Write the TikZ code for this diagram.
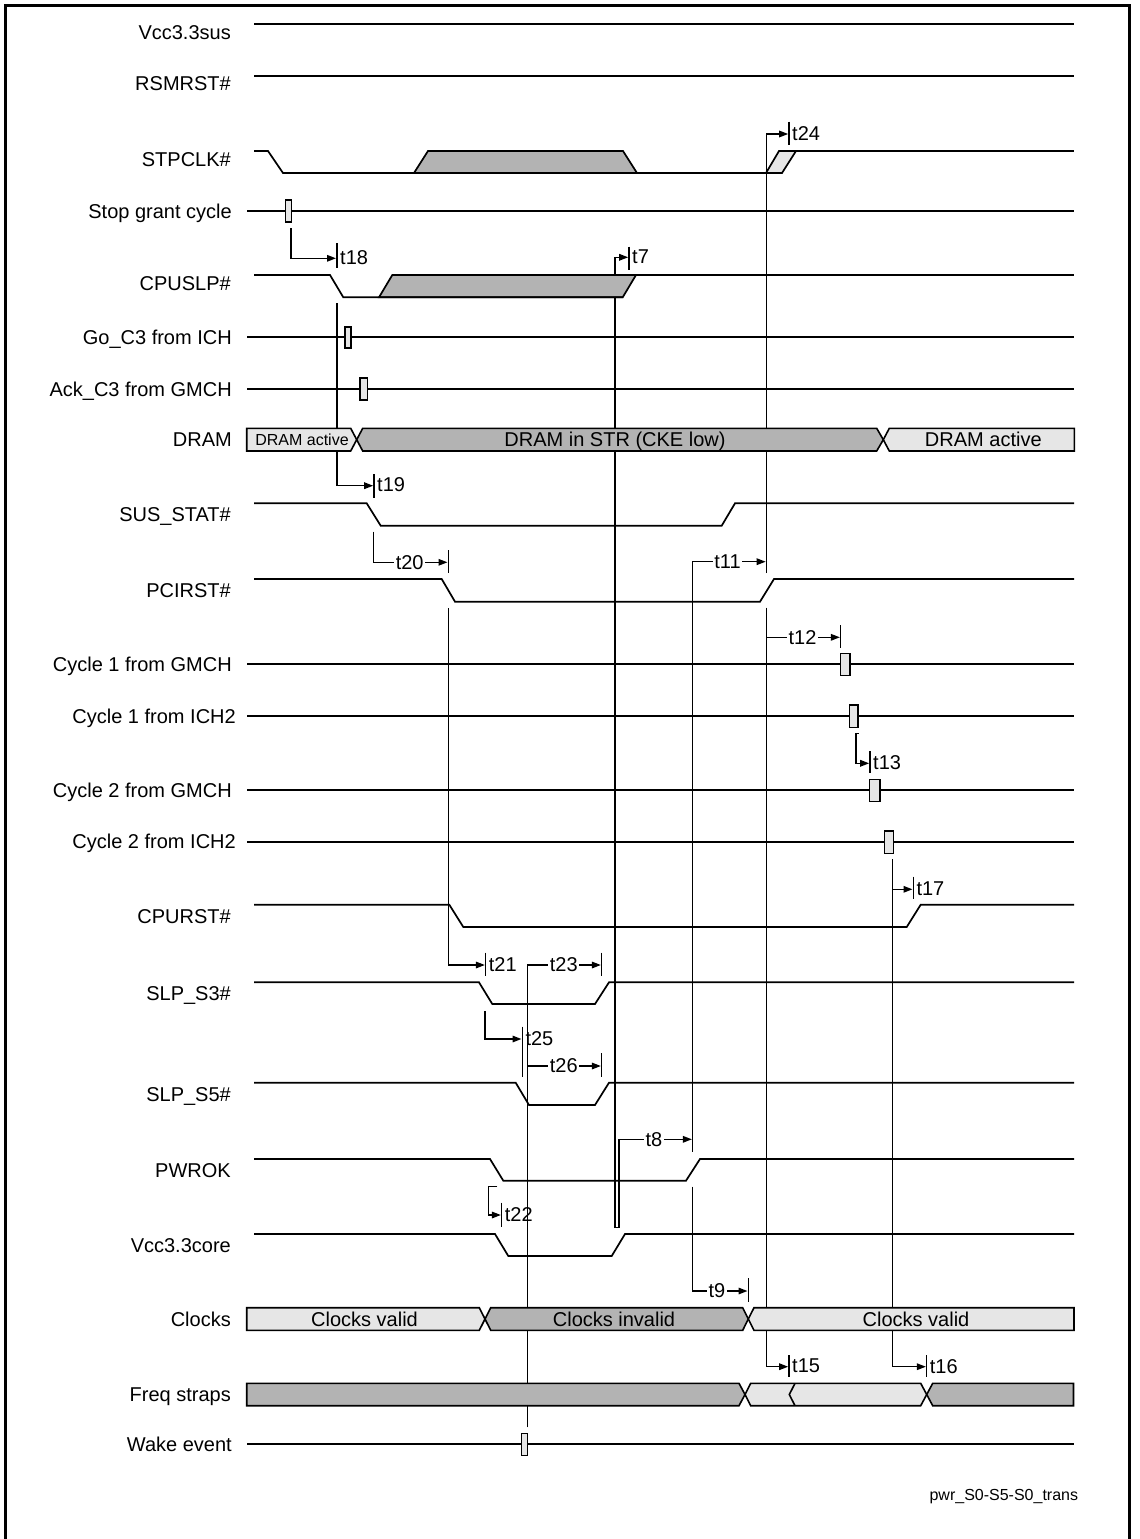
\documentclass[tikz,border=0pt]{standalone}
\usepackage{fontspec}
\setmainfont{Liberation Sans}
\usetikzlibrary{arrows.meta}
\definecolor{dk}{RGB}{179,179,179}
\definecolor{lt}{RGB}{230,230,230}
\tikzset{
  sig/.style={line width=1.7pt, line join=miter},
  tk/.style={line width=1.5pt},
  tarr/.style={line width=1.5pt, -{Triangle[length=9pt,width=6.5pt]}},
  pulse/.style={draw, fill=lt, line width=1.4pt},
  bar/.style={draw, line width=1.6pt},
  lbl/.style={anchor=base east, inner sep=0pt, font=\fontsize{20}{24}\selectfont},
  tl/.style={anchor=west, inner sep=0pt, font=\fontsize{20}{24}\selectfont},
  tm/.style={fill=white, inner sep=1.5pt, font=\fontsize{20}{24}\selectfont},
  btxt/.style={anchor=base, inner sep=0pt, font=\fontsize{20}{24}\selectfont},
  stxt/.style={anchor=base, inner sep=0pt, font=\fontsize{16}{19}\selectfont}
}
\begin{document}
\begin{tikzpicture}[x=1pt,y=-1pt]
\useasboundingbox (0,0) rectangle (1140,1539);
% frame
\draw[line width=3.5pt] (5.5,1560) -- (5.5,5.5) -- (1129.5,5.5) -- (1129.5,1560);

% ---------- signal labels ----------
\node[lbl] (lVcc) at (231,39.3) {Vcc3.3sus};
\node[lbl] (lRSM) at (231,90.7) {RSMRST\#};
\node[lbl] (lSTP) at (231,166.7) {STPCLK\#};
\node[lbl] (lSGC) at (232,218.3) {Stop grant cycle};
\node[lbl] (lSLP) at (231,290) {CPUSLP\#};
\node[lbl] (lGo) at (232,344) {Go\_C3 from ICH};
\node[lbl] (lAck) at (232,396) {Ack\_C3 from GMCH};
\node[lbl] (lDRAM) at (232,446.8) {DRAM};
\node[lbl] (lSUS) at (231,521.6) {SUS\_STAT\#};
\node[lbl] (lPCI) at (231,597.5) {PCIRST\#};
\node[lbl] (lC1G) at (232,671.4) {Cycle 1 from GMCH};
\node[lbl] (lC1I) at (236,723.1) {Cycle 1 from ICH2};
\node[lbl] (lC2G) at (232,797.1) {Cycle 2 from GMCH};
\node[lbl] (lC2I) at (236,848.8) {Cycle 2 from ICH2};
\node[lbl] (lCPU) at (231,923) {CPURST\#};
\node[lbl] (lS3) at (231,1000.3) {SLP\_S3\#};
\node[lbl] (lS5) at (231,1101) {SLP\_S5\#};
\node[lbl] (lPWR) at (231,1177) {PWROK};
\node[lbl] (lVcore) at (231,1252.2) {Vcc3.3core};
\node[lbl] (lClk) at (231,1326) {Clocks};
\node[lbl] (lFreq) at (231,1401.6) {Freq straps};
\node[lbl] (lWake) at (232,1451.4) {Wake event};

% ---------- timing arrows (under the bars) ----------
% t24 / t11 tick line
\draw[tarr] (766.5,573) -- (766.5,134) -- (788.2,134);
\draw[tk] (789,121.7) -- (789,145);
\node[tl] (t24) at (792,133.5) {t24};
% t18
\draw[tarr] (291,228.3) -- (291,258.3) -- (336,258.3);
\draw[tk] (337,243) -- (337,268);
\node[tl] (t18) at (340,257.5) {t18};
% t19
\draw[tarr] (337,303) -- (337,485.7) -- (373.2,485.7);
\draw[tk] (374,474) -- (374,498.3);
\node[tl] (t19) at (377,485) {t19};
% t20
\draw[tarr] (373.3,531.7) -- (373.3,562.3) -- (447.5,562.3);
\draw[tk] (448.3,550) -- (448.3,573.3);
\node[tm] (t20) at (409.7,562.3) {t20};
% t21
\draw[tarr] (448.3,608) -- (448.3,965) -- (484.9,965);
\draw[tk] (485.7,952.7) -- (485.7,976);
\node[tl] (t21) at (488.7,964.5) {t21};
% t23 (long line to wake event)
\draw[tarr] (527.3,1427.3) -- (527.3,965) -- (600.9,965);
\draw[tk] (601.7,952.7) -- (601.7,976);
\node[tm] (t23) at (563.8,965) {t23};
% t26
\draw[tarr] (527.3,1066) -- (600.9,1066);
\draw[tk] (601.7,1053.3) -- (601.7,1076.7);
\node[tm] (t26) at (563.8,1066) {t26};
% t25
\draw[tarr] (485,1011) -- (485,1039) -- (521.5,1039);
\draw[tk] (522.3,1026.7) -- (522.3,1076.7);
\node[tl] (t25) at (525.3,1038.5) {t25};
% t7
\draw[tarr] (615,1227.5) -- (615,257.3) -- (628.2,257.3);
\draw[tk] (629,246.7) -- (629,270);
\node[tl] (t7) at (632,257) {t7};
% t8
\draw[tarr] (615,1227.5) -- (619,1227.5) -- (619,1139.3) -- (691.9,1139.3);
\node[tm] (t8) at (654,1139.3) {t8};
% t11
\draw[tarr] (692.7,1151.7) -- (692.7,561.7) -- (765.7,561.7);
\node[tm] (t11) at (727.5,561.7) {t11};
% t9
\draw[tarr] (692.7,1186.7) -- (692.7,1291) -- (747.5,1291);
\draw[tk] (748.3,1278.3) -- (748.3,1301.7);
\node[tm] (t9) at (717,1291) {t9};
% t12 / t15
\draw[tarr] (766.7,607.7) -- (766.7,1366.7) -- (788.2,1366.7);
\draw[tk] (789,1355) -- (789,1377.3);
\node[tl] (t15) at (792,1366.2) {t15};
\draw[tarr] (766.7,637.3) -- (839.9,637.3);
\draw[tk] (840.7,625) -- (840.7,647.7);
\node[tm] (t12) at (802.5,637.3) {t12};
% t13
\draw[tarr] (858.7,733.3) -- (856,733.3) -- (856,763.3) -- (869.2,763.3);
\draw[tk] (870,751) -- (870,773.3);
\node[tl] (t13) at (873,762.8) {t13};
% t17 / t16
\draw[tarr] (892.7,859.3) -- (892.7,1366.7) -- (925.9,1366.7);
\draw[tk] (926.7,1355) -- (926.7,1377.3);
\node[tl] (t16) at (929.7,1366.2) {t16};
\draw[tarr] (892.7,889.3) -- (912.5,889.3);
\draw[tk] (913.3,876.7) -- (913.3,899.3);
\node[tl] (t17) at (916.3,888.8) {t17};
% t22
\draw[tarr] (497.3,1186.7) -- (488.3,1186.7) -- (488.3,1215) -- (500.9,1215);
\draw[tk] (501.7,1202.7) -- (501.7,1227.3);
\node[tl] (t22) at (504.7,1214.5) {t22};

% ---------- signals ----------
\draw[sig] (254,24) -- (1074,24);
\draw[sig] (254,76) -- (1074,76);
% STPCLK#
\draw[sig, fill=dk] (414,173) -- (428,151) -- (623,151) -- (637,173) -- cycle;
\draw[sig, fill=lt] (766,173) -- (779,151) -- (796,151) -- (782,173) -- cycle;
\draw[sig] (254,151) -- (268,151) -- (283,173) -- (782,173);
\draw[sig] (779,151) -- (1074,151);
% Stop grant cycle
\draw[sig] (247,211) -- (1074,211);
\draw[pulse] (285.7,200) rectangle (291.7,222);
% CPUSLP#
\draw[sig, fill=dk] (379,297.3) -- (392.3,275) -- (636,275) -- (622.7,297.3) -- cycle;
\draw[sig] (254,275) -- (330,275) -- (343.3,297.3) -- (623,297.3);
\draw[sig] (636,275) -- (1074,275);
% Go_C3 / Ack_C3
\draw[sig] (247,337) -- (1074,337);
\draw[pulse] (345,327) rectangle (351,348);
\draw[sig] (247,389) -- (1074,389);
\draw[pulse] (360,378) rectangle (367.3,400);
% SUS_STAT#
\draw[sig] (254,503.3) -- (366.7,503.3) -- (380.7,525.7) -- (721.7,525.7) -- (735,503.3) -- (1074,503.3);
% PCIRST#
\draw[sig] (254,579) -- (441.7,579) -- (455,601.7) -- (760,601.7) -- (774,579) -- (1074,579);
% Cycles
\draw[sig] (247,664.3) -- (1074,664.3);
\draw[pulse] (840.7,653.3) rectangle (850,675.7);
\draw[sig] (247,716) -- (1074,716);
\draw[pulse] (849.3,705) rectangle (858,727.3);
\draw[sig] (247,790) -- (1074,790);
\draw[pulse] (869.3,779.3) rectangle (880,801.7);
\draw[sig] (247,841.7) -- (1074,841.7);
\draw[pulse] (884.3,831) rectangle (893.7,853.3);
% CPURST#
\draw[sig] (254,904.7) -- (449.3,904.7) -- (463.3,927) -- (906.7,927) -- (920.7,904.7) -- (1074,904.7);
% SLP_S3#
\draw[sig] (254,982.3) -- (479,982.3) -- (492.3,1004) -- (595,1004) -- (609,982.3) -- (1074,982.3);
% SLP_S5#
\draw[sig] (254,1082.7) -- (515.7,1082.7) -- (529,1105) -- (595,1105) -- (609,1082.7) -- (1074,1082.7);
% PWROK
\draw[sig] (254,1159) -- (490,1159) -- (503.3,1180.7) -- (686,1180.7) -- (700,1159) -- (1074,1159);
% Vcc3.3core
\draw[sig] (254,1234) -- (495,1234) -- (508.3,1256) -- (611.7,1256) -- (625,1234) -- (1074,1234);
% Wake event
\draw[sig] (247,1444.3) -- (1073.5,1444.3);
\draw[pulse] (521.7,1433.3) rectangle (527.3,1455.3);

% ---------- bus bars ----------
% DRAM
\draw[bar, fill=lt] (246.7,428.3) -- (350.7,428.3) -- (356.7,439.7) -- (350.7,451) -- (246.7,451) -- cycle;
\draw[bar, fill=dk] (362.7,428.3) -- (876.7,428.3) -- (883.3,439.7) -- (876.7,451) -- (362.7,451) -- (356.7,439.7) -- cycle;
\draw[bar, fill=lt] (889.3,428.3) -- (1074.3,428.3) -- (1074.3,451) -- (889.3,451) -- (883.3,439.7) -- cycle;
\node[stxt] (dA1) at (302,445.4) {DRAM active};
\node[btxt] (dS) at (615,446.9) {DRAM in STR (CKE low)};
\node[btxt] (dA2) at (983.3,446.9) {DRAM active};
% Clocks
\draw[bar, fill=lt] (246.7,1307.7) -- (479.3,1307.7) -- (485,1319) -- (479.3,1330.3) -- (246.7,1330.3) -- cycle;
\draw[bar, fill=dk] (490.7,1307.7) -- (742.7,1307.7) -- (748.3,1319) -- (742.7,1330.3) -- (490.7,1330.3) -- (485,1319) -- cycle;
\draw[bar, fill=lt] (754,1307.7) -- (1074,1307.7) -- (1074,1330.3) -- (754,1330.3) -- (748.3,1319) -- cycle;
\node[btxt] (c1) at (364.5,1326.2) {Clocks valid};
\node[btxt] (c2) at (614,1326.2) {Clocks invalid};
\node[btxt] (c3) at (916,1326.2) {Clocks valid};
% Freq straps
\draw[bar, fill=dk] (246.7,1383.3) -- (739,1383.3) -- (745,1394.5) -- (739,1405.7) -- (246.7,1405.7) -- cycle;
\draw[bar, fill=lt] (750.7,1383.3) -- (920.7,1383.3) -- (926.7,1394.5) -- (920.7,1405.7) -- (750.7,1405.7) -- (745,1394.5) -- cycle;
\draw[bar] (795,1383.3) -- (789.3,1394.5) -- (795,1405.7);
\draw[bar, fill=dk] (932.7,1383.3) -- (1073.5,1383.3) -- (1073.5,1405.7) -- (932.7,1405.7) -- (926.7,1394.5) -- cycle;

% footer
\node[anchor=base east, inner sep=0pt, font=\fontsize{16}{19}\selectfont] (foot) at (1078.3,1500) {pwr\_S0-S5-S0\_trans};
\end{tikzpicture}
\end{document}
